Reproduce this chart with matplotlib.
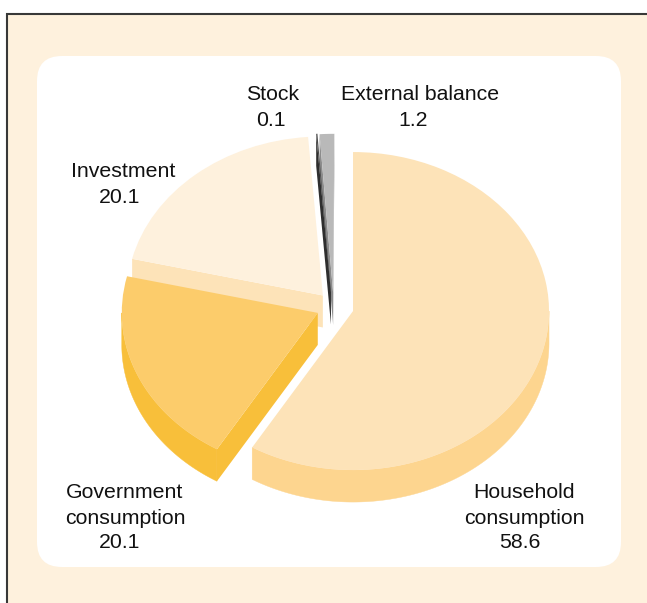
import numpy as np
import matplotlib
matplotlib.use("Agg")
import matplotlib.pyplot as plt
from matplotlib.patches import Wedge, Polygon, FancyBboxPatch, Rectangle
from matplotlib.transforms import Affine2D

# GDP expenditure shares, clockwise from twelve o'clock
categories = ["Household\nconsumption", "Government\nconsumption", "Investment", "Stock", "External balance"]
values = [58.6, 20.1, 20.1, 0.1, 1.2]
top_colors = ["#FDE3B8", "#FCCC6B", "#FEF1DD", "#4A4A4A", "#B9B9B9"]
side_colors = ["#FDD58F", "#F8BF3A", "#FDE3B8", "#2E2E2E", "#8C8C8C"]

W, H = 647, 603
CX, CY = 335.0, 307.0
RX, RY, DEPTH = 196.0, 159.0, 32.0
EXPLODE = 18.7
# extra screen shift that separates the two thin slices at the top
thin_shift = {3: (-2.7, 0.5), 4: (-1.3, 1.0)}

fig = plt.figure(figsize=(W / 100, H / 100), dpi=100, facecolor="white")
ax = fig.add_axes([0, 0, 1, 1])
ax.set_xlim(0, W)
ax.set_ylim(H, 0)
ax.axis("off")

ax.add_patch(Rectangle((6.5, 13.5), W, H, fc="#FEF1DD", ec="#383838", lw=1.5, zorder=0))
ax.add_patch(FancyBboxPatch((62, 81), 534, 461, boxstyle="round,pad=25,rounding_size=25",
                            fc="white", ec="none", zorder=0.5))


def point(cx, cy, a):
    """Screen position of clockwise angle a (radians from the top) on the rim."""
    return cx + RX * np.sin(a), cy - RY * np.cos(a)


angles = np.deg2rad(np.concatenate([[0], np.cumsum(values)]) * 3.6)
z = 1
# Draw back-to-front so the front slices cover what lies behind them
for i in [4, 3, 2, 0, 1]:
    a0, a1 = angles[i], angles[i + 1]
    mid = (a0 + a1) / 2
    dx, dy = thin_shift.get(i, (0, 0))
    cx = CX + EXPLODE * np.sin(mid) + dx
    cy = CY - EXPLODE * RY / RX * np.cos(mid) + dy

    # outer rim: only the part of the arc on the near side of the pie
    lo, hi = max(a0, np.pi / 2), min(a1, 3 * np.pi / 2)
    if hi > lo:
        t = np.linspace(lo, hi, 200)
        x, y = point(cx, cy, t)
        rim = np.r_[np.c_[x, y], np.c_[x[::-1], y[::-1] + DEPTH]]
        ax.add_patch(Polygon(rim, fc=side_colors[i], ec=side_colors[i], lw=0.3, zorder=z))

    # cut face at the start or end of the slice, when it faces the viewer
    for a in (a0, a1):
        px, py = point(cx, cy, a)
        ex, ey = px - cx, py - cy
        inner = np.array([(np.sin(mid) * RX - ex), (-np.cos(mid) * RY - ey)])
        normal = np.array([ey, -ex])
        if normal @ inner > 0:
            normal = -normal
        if normal[1] > 0:
            face = [(cx, cy), (px, py), (px, py + DEPTH), (cx, cy + DEPTH)]
            ax.add_patch(Polygon(face, fc=side_colors[i], ec="none", zorder=z))

    tr = Affine2D().scale(RX, RY).translate(cx, cy) + ax.transData
    ax.add_patch(Wedge((0, 0), 1, np.degrees(a0) - 90, np.degrees(a1) - 90,
                       fc=top_colors[i], ec="none", transform=tr, zorder=z + 0.5))
    z += 1

# Each label: name lines, then the value set slightly left of the name's centre
font = dict(family="Liberation Sans", fontsize=15.35, color="#111111", ha="center",
            va="baseline", zorder=20)
label_places = [
    (524, [498, 524], 519.5, 548),
    (125, [498, 524], 120, 548),
    (123.5, [177], 119.5, 203),
    (273, [100], 271, 126),
    (420.5, [100], 413, 126),
]
for name, value, (nx, ny, vx, vy) in zip(categories, values, label_places):
    for line, y in zip(name.split("\n"), ny):
        ax.text(nx, y, line, **font)
    ax.text(vx, vy, f"{value}", **font)

fig.savefig("out.png", dpi=100, facecolor="white")
